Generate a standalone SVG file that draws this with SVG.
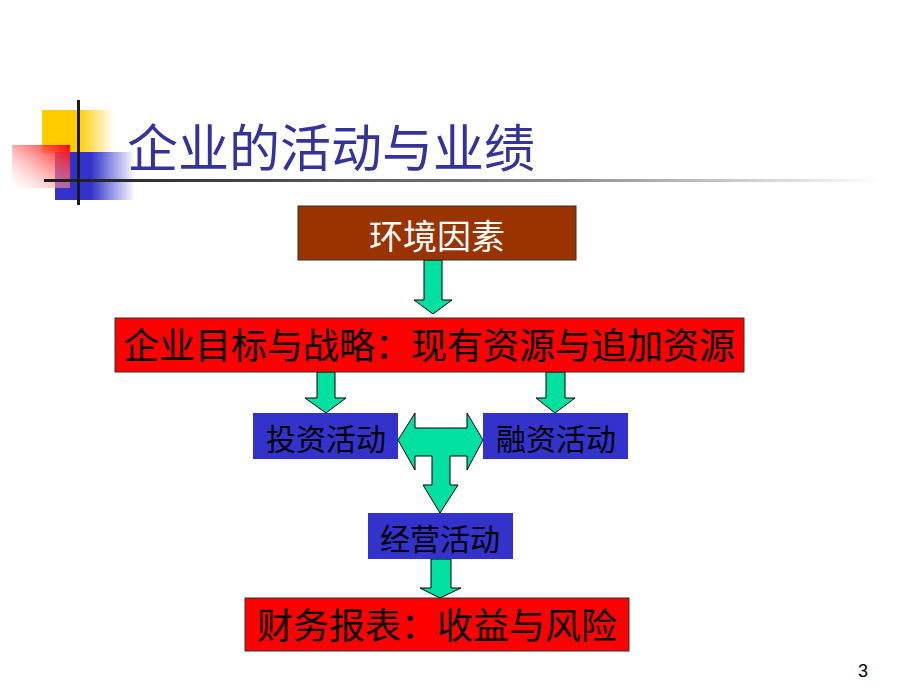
<svg xmlns="http://www.w3.org/2000/svg" width="920" height="690" viewBox="0 0 920 690">
<defs>
<linearGradient id="gy" x1="0" y1="0" x2="1" y2="0"><stop offset="0.5" stop-color="#FFCC00"/><stop offset="1" stop-color="#FFCC00" stop-opacity="0"/></linearGradient>
<linearGradient id="gb" x1="0" y1="0" x2="1" y2="0"><stop offset="0.45" stop-color="#3333CC"/><stop offset="1" stop-color="#3333CC" stop-opacity="0"/></linearGradient>
<linearGradient id="gr" x1="1" y1="0" x2="0" y2="1"><stop offset="0" stop-color="#FF0000"/><stop offset="1" stop-color="#FFFFFF" stop-opacity="0.3"/></linearGradient>
<linearGradient id="gl" x1="0" y1="0" x2="1" y2="0"><stop offset="0" stop-color="#1a1a1a"/><stop offset="0.6" stop-color="#888888"/><stop offset="1" stop-color="#FFFFFF"/></linearGradient>
</defs>
<style>
.arr{fill:#00E0A0;stroke:#000;stroke-width:1}
.box{stroke:#333;stroke-width:1}
.t{font-family:"Noto Sans CJK SC","Noto Sans",sans-serif;text-anchor:middle;fill:#000}
</style>
<rect width="920" height="690" fill="#fff"/>
<g id="decoration">
<rect x="42" y="110" width="72" height="43" fill="url(#gy)"/>
<rect x="55" y="152" width="80" height="48" fill="url(#gb)"/>
<rect x="12" y="145" width="58" height="43" fill="url(#gr)"/>
<rect x="44" y="179" width="840" height="3" fill="url(#gl)"/>
<rect x="77" y="100" width="3" height="105" fill="#1a1a1a"/>
</g>
<g id="title">
<text x="127" y="167" font-family="'Noto Sans CJK SC','Noto Sans',sans-serif" font-size="51" fill="#333399">企业的活动与业绩</text>
</g>
<g id="connectors">
<polygon class="arr" points="424,260 442,260 442,300 452,300 433,314 414,300 424,300"/>
<polygon class="arr" points="317,372 335,372 335,398 346,398 326,413 305,398 317,398"/>
<polygon class="arr" points="546,372 565,372 565,398 575,398 555,413 536,398 546,398"/>
<polygon class="arr" points="398,440 415,413 415,428 467,428 467,413 483,440 467,470 467,456 450,456 450,485 458,485 440,513 423,485 432,485 432,456 415,456 415,470"/>
<polygon class="arr" points="431,559 451,559 451,588 461,588 440,598 420,588 431,588"/>
</g>
<g id="n-env">
<rect class="box" x="298" y="206" width="278" height="54" fill="#993300"/>
<text class="t" x="437" y="249" font-size="34" style="fill:#fff">环境因素</text>
</g>
<g id="n-goal">
<rect class="box" x="115" y="318" width="629" height="54" fill="#FF0000"/>
<text class="t" x="429" y="359" font-size="36">企业目标与战略：现有资源与追加资源</text>
</g>
<g id="n-invest">
<rect x="253" y="413" width="145" height="46" fill="#3333CC"/>
<text class="t" x="326" y="450" font-size="30">投资活动</text>
</g>
<g id="n-finance">
<rect x="483" y="413" width="145" height="46" fill="#3333CC"/>
<text class="t" x="556" y="450" font-size="30">融资活动</text>
</g>
<g id="n-operate">
<rect x="368" y="513" width="145" height="46" fill="#3333CC"/>
<text class="t" x="440" y="550" font-size="30">经营活动</text>
</g>
<g id="n-report">
<rect class="box" x="245" y="598" width="384" height="53" fill="#FF0000"/>
<text class="t" x="437" y="639" font-size="36">财务报表：收益与风险</text>
</g>
<text x="858" y="677" font-family="'Liberation Sans',Arial,sans-serif" font-size="18" fill="#000">3</text>
</svg>
